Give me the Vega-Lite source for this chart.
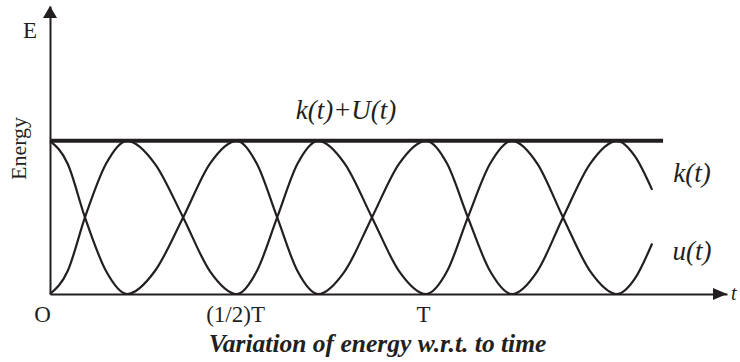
{
  "$schema": "https://vega.github.io/schema/vega-lite/v6.json",
  "width": 677,
  "height": 288,
  "autosize": {"type": "none"},
  "padding": {"left": 50, "top": 6, "right": 13, "bottom": 68},
  "background": "white",
  "config": {"view": {"stroke": null}, "font": "Liberation Serif"},
  "datasets": {
    "energy": [
      {"t": 0.000, "E": 1.00, "series": "k"}, {"t": 0.047, "E": 0.85, "series": "k"}, {"t": 0.093, "E": 0.50, "series": "k"},
      {"t": 0.149, "E": 0.15, "series": "k"}, {"t": 0.205, "E": 0.00, "series": "k"}, {"t": 0.279, "E": 0.15, "series": "k"},
      {"t": 0.354, "E": 0.50, "series": "k"}, {"t": 0.425, "E": 0.85, "series": "k"}, {"t": 0.497, "E": 1.00, "series": "k"},
      {"t": 0.550, "E": 0.85, "series": "k"}, {"t": 0.604, "E": 0.50, "series": "k"}, {"t": 0.658, "E": 0.15, "series": "k"},
      {"t": 0.713, "E": 0.00, "series": "k"}, {"t": 0.784, "E": 0.15, "series": "k"}, {"t": 0.856, "E": 0.50, "series": "k"},
      {"t": 0.928, "E": 0.85, "series": "k"}, {"t": 1.000, "E": 1.00, "series": "k"}, {"t": 1.056, "E": 0.85, "series": "k"},
      {"t": 1.111, "E": 0.50, "series": "k"}, {"t": 1.170, "E": 0.15, "series": "k"}, {"t": 1.228, "E": 0.00, "series": "k"},
      {"t": 1.296, "E": 0.15, "series": "k"}, {"t": 1.364, "E": 0.50, "series": "k"}, {"t": 1.436, "E": 0.85, "series": "k"},
      {"t": 1.508, "E": 1.00, "series": "k"}, {"t": 1.555, "E": 0.90, "series": "k"}, {"t": 1.601, "E": 0.68, "series": "k"},
      {"t": 0.000, "E": 0.00, "series": "u"}, {"t": 0.047, "E": 0.15, "series": "u"}, {"t": 0.093, "E": 0.50, "series": "u"},
      {"t": 0.149, "E": 0.85, "series": "u"}, {"t": 0.205, "E": 1.00, "series": "u"}, {"t": 0.279, "E": 0.85, "series": "u"},
      {"t": 0.354, "E": 0.50, "series": "u"}, {"t": 0.425, "E": 0.15, "series": "u"}, {"t": 0.497, "E": 0.00, "series": "u"},
      {"t": 0.550, "E": 0.15, "series": "u"}, {"t": 0.604, "E": 0.50, "series": "u"}, {"t": 0.658, "E": 0.85, "series": "u"},
      {"t": 0.713, "E": 1.00, "series": "u"}, {"t": 0.784, "E": 0.85, "series": "u"}, {"t": 0.856, "E": 0.50, "series": "u"},
      {"t": 0.928, "E": 0.15, "series": "u"}, {"t": 1.000, "E": 0.00, "series": "u"}, {"t": 1.056, "E": 0.15, "series": "u"},
      {"t": 1.111, "E": 0.50, "series": "u"}, {"t": 1.170, "E": 0.85, "series": "u"}, {"t": 1.228, "E": 1.00, "series": "u"},
      {"t": 1.296, "E": 0.85, "series": "u"}, {"t": 1.364, "E": 0.50, "series": "u"}, {"t": 1.436, "E": 0.15, "series": "u"},
      {"t": 1.508, "E": 0.00, "series": "u"}, {"t": 1.555, "E": 0.10, "series": "u"}, {"t": 1.601, "E": 0.33, "series": "u"}
    ],
    "total": [
      {"t": 0.0, "E": 1.0},
      {"t": 1.63, "E": 1.0}
    ],
    "arrows": [
      {"t": 0.0, "E": 1.841, "dir": "up"},
      {"t": 1.7814, "E": 0.0, "dir": "right"}
    ],
    "curveLabels": [
      {"t": 0.787, "E": 1.1945, "text": "k(t)+U(t)"},
      {"t": 1.707, "E": 0.783, "text": "k(t)"},
      {"t": 1.707, "E": 0.274, "text": "u(t)"}
    ],
    "axisEnds": [
      {"t": 0.0, "E": 1.717, "text": "E"}
    ],
    "timeEnd": [
      {"t": 1.8, "E": 0.0, "text": "t"}
    ]
  },
  "encoding": {
    "x": {
      "field": "t",
      "type": "quantitative",
      "scale": {"domain": [0, 1.8], "nice": false, "zero": false},
      "axis": {
        "values": [0, 0.5, 1],
        "labelExpr": "datum.value == 0 ? 'O' : datum.value == 0.5 ? '(1/2)T' : 'T'",
        "ticks": false,
        "grid": false,
        "domainColor": "#231f20",
        "domainWidth": 2,
        "labelFont": "Liberation Serif",
        "labelFontSize": 23,
        "labelColor": "#231f20",
        "labelPadding": 9,
        "labelFlush": false,
        "labelOverlap": false,
        "labelOffset": {"condition": {"test": "datum.value == 0", "value": -8}, "value": -3},
        "title": "Variation of energy w.r.t. to time",
        "titleFont": "Liberation Serif",
        "titleFontSize": 25.5,
        "titleFontStyle": "italic",
        "titleFontWeight": "bold",
        "titleColor": "#231f20",
        "titleX": 327,
        "titleY": 57,
        "titleAlign": "center",
        "titleBaseline": "alphabetic"
      }
    },
    "y": {
      "field": "E",
      "type": "quantitative",
      "scale": {"domain": [0, 1.88], "nice": false},
      "axis": {
        "labels": false,
        "ticks": false,
        "grid": false,
        "domainColor": "#231f20",
        "domainWidth": 2,
        "title": "Energy",
        "titleFont": "Liberation Serif",
        "titleFontSize": 22,
        "titleFontWeight": "normal",
        "titleColor": "#231f20",
        "titleAngle": 270,
        "titleX": -25,
        "titleY": 142,
        "titleAlign": "center",
        "titleBaseline": "alphabetic"
      }
    }
  },
  "layer": [
    {
      "data": {"name": "total"},
      "mark": {"type": "line", "color": "#231f20", "strokeWidth": 4, "strokeCap": "butt"}
    },
    {
      "data": {"name": "energy"},
      "mark": {"type": "line", "color": "#231f20", "strokeWidth": 2.2, "interpolate": "monotone"},
      "encoding": {"detail": {"field": "series", "type": "nominal"}}
    },
    {
      "data": {"name": "arrows"},
      "mark": {"type": "point", "filled": true, "size": 144, "color": "#231f20", "opacity": 1, "strokeWidth": 0},
      "encoding": {
        "shape": {
          "field": "dir",
          "type": "nominal",
          "scale": {"domain": ["up", "right"], "range": ["M0,-1L-1.17,1L1.17,1Z", "M1.17,0L-1.17,-1L-1.17,1Z"]},
          "legend": null
        }
      }
    },
    {
      "data": {"name": "curveLabels"},
      "mark": {"type": "text", "font": "Liberation Serif", "fontStyle": "italic", "fontSize": 27, "color": "#231f20", "align": "center", "baseline": "middle"},
      "encoding": {"text": {"field": "text", "type": "nominal"}}
    },
    {
      "data": {"name": "axisEnds"},
      "mark": {"type": "text", "font": "Liberation Serif", "fontSize": 23, "color": "#231f20", "align": "center", "baseline": "middle", "dx": -20},
      "encoding": {"text": {"field": "text", "type": "nominal"}}
    },
    {
      "data": {"name": "timeEnd"},
      "mark": {"type": "text", "font": "Liberation Serif", "fontStyle": "italic", "fontSize": 20, "color": "#231f20", "align": "left", "baseline": "middle", "dx": 4},
      "encoding": {"text": {"field": "text", "type": "nominal"}}
    }
  ]
}
